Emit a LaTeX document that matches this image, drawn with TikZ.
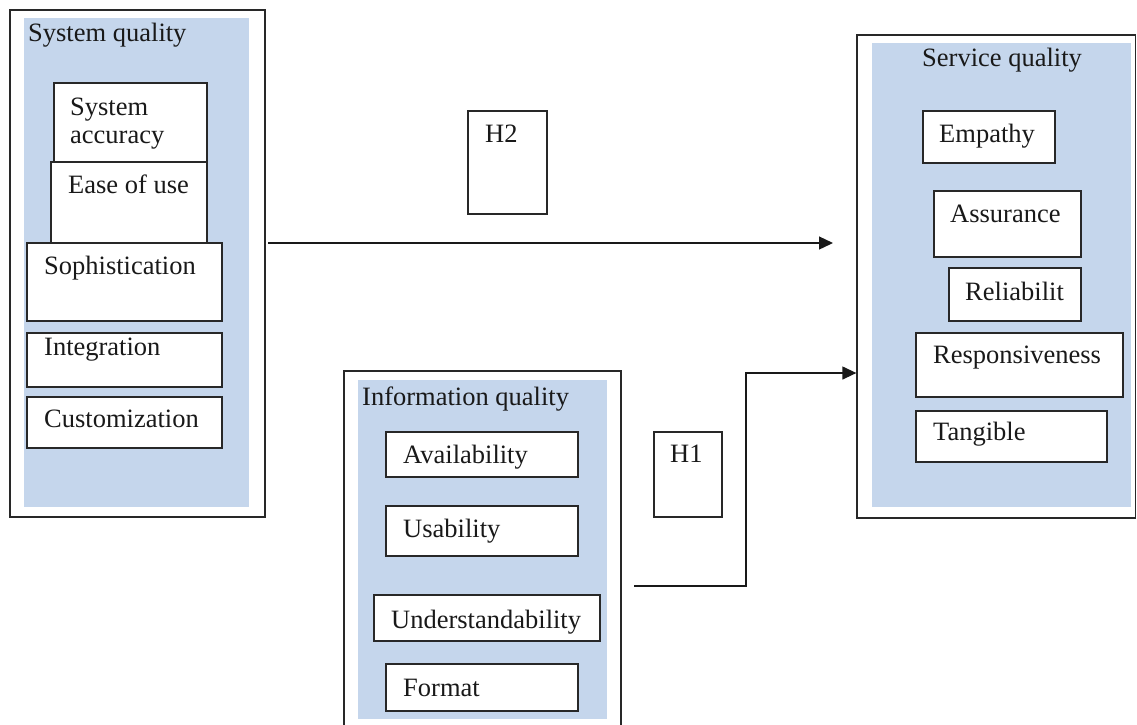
\documentclass[tikz,border=0pt]{standalone}
\usepackage{fontspec}
\setmainfont{Liberation Serif}
\usetikzlibrary{fit,arrows.meta}
\definecolor{panel}{RGB}{197,214,236}
\definecolor{edge}{RGB}{40,40,40}
\begin{document}
\begin{tikzpicture}[x=1pt,y=-1pt,
  outerbox/.style={draw=edge, line width=1.3pt, fill=white, inner sep=0pt},
  panelbox/.style={fill=panel, inner sep=0pt},
  itembox/.style={draw=edge, line width=1.3pt, fill=white, inner sep=0pt},
  lbl/.style={anchor=base west, inner sep=0pt, text=black!90, font=\fontsize{26.5}{28}\selectfont},
  conn/.style={draw=black!90, line width=1.3pt, -{Triangle[length=14pt,width=13pt]}}]
\useasboundingbox (0,0) rectangle (1137,724);
\clip (0,0) rectangle (1137,724);

% ---------- System quality ----------
\node[outerbox, fit={(10,10)(265,517)}] (sysouter) {};
\node[panelbox, fit={(24,18)(249,507)}] (syspanel) {};
\node[lbl] (systitle) at (28,41) {System quality};
\node[itembox, fit={(54,83)(207,162)}] (sysacc) {};
\node[lbl] (sysacc1) at (70,115) {System};
\node[lbl] (sysacc2) at (70,143) {accuracy};
\node[itembox, fit={(51,162)(207,243)}] (ease) {};
\node[lbl] (easet) at (68,193) {Ease of use};
\node[itembox, fit={(27,243)(222,321)}] (soph) {};
\node[lbl] (sopht) at (44,274) {Sophistication};
\node[itembox, fit={(27,333)(222,387)}] (integ) {};
\node[lbl] (integt) at (44,355) {Integration};
\node[itembox, fit={(27,397)(222,448)}] (custom) {};
\node[lbl] (customt) at (44,427) {Customization};

% ---------- Service quality ----------
\node[outerbox, fit={(857,35)(1135.5,518)}] (serouter) {};
\node[panelbox, fit={(872,43)(1131,507)}] (serpanel) {};
\node[lbl] (sertitle) at (922,66) {Service quality};
\node[itembox, fit={(923,111)(1055,163)}] (empathy) {};
\node[lbl] (empathyt) at (939,142) {Empathy};
\node[itembox, fit={(934,191)(1081,257)}] (assur) {};
\node[lbl] (assurt) at (950,222) {Assurance};
\node[itembox, fit={(949,268)(1081,321)}] (reliab) {};
\node[lbl] (reliabt) at (965,300) {Reliabilit};
\node[itembox, fit={(916,333)(1123,397)}] (respons) {};
\node[lbl] (responst) at (933,363) {Responsiveness};
\node[itembox, fit={(916,411)(1107,462)}] (tangible) {};
\node[lbl] (tangiblet) at (933,440) {Tangible};

% ---------- Information quality ----------
\node[outerbox, fit={(344,371)(621,735)}] (infouter) {};
\node[panelbox, fit={(358,380)(607,719)}] (infpanel) {};
\node[lbl] (inftitle) at (362,405) {Information quality};
\node[itembox, fit={(386,432)(578,477)}] (avail) {};
\node[lbl] (availt) at (403,463) {Availability};
\node[itembox, fit={(386,506)(578,556)}] (usab) {};
\node[lbl] (usabt) at (403,537) {Usability};
\node[itembox, fit={(374,595)(600,641)}] (underst) {};
\node[lbl] (understt) at (391,628) {Understandability};
\node[itembox, fit={(386,664)(578,711)}] (format) {};
\node[lbl] (formatt) at (403,696) {Format};

% ---------- Hypotheses ----------
\node[itembox, fit={(468,111)(547,214)}] (h2box) {};
\node[lbl] (h2t) at (485,142) {H2};
\node[itembox, fit={(654,432)(722,517)}] (h1box) {};
\node[lbl] (h1t) at (670,462) {H1};

% ---------- Connectors ----------
\coordinate (h2start) at (268,243);
\coordinate (h2end) at (833,243);
\draw[conn] (h2start) -- (h2end);
\coordinate (h1start) at (634,586);
\coordinate (h1turn) at (746,373);
\draw[conn] (h1start) -| (h1turn) -- (serouter.west |- h1turn);
\end{tikzpicture}
\end{document}
